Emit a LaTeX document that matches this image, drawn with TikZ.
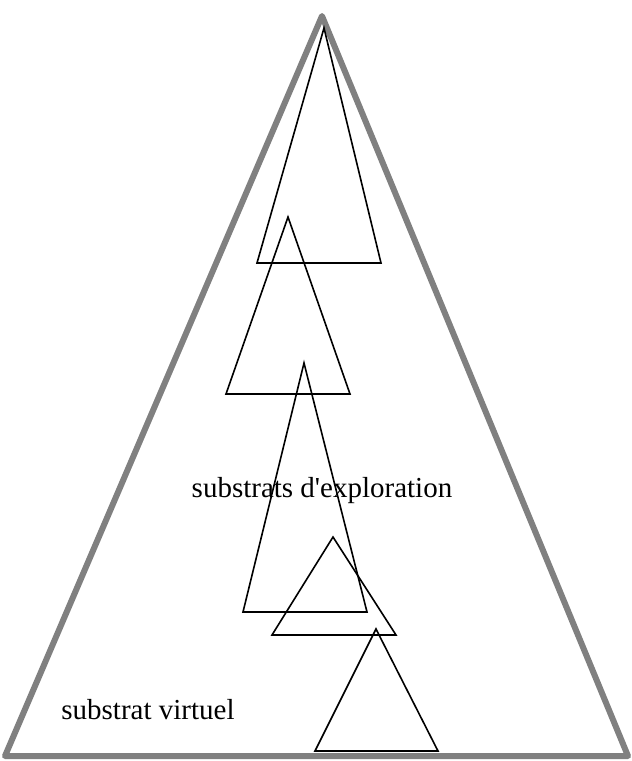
\documentclass[tikz,border=0pt]{standalone}
\usepackage{fontspec}
\setmainfont{Liberation Serif}
\usepackage{tikz}
\definecolor{Hatch}{RGB}{128,128,128}
\tikzset{
  outer/.style={draw=Hatch,line width=6pt,line join=round},
  inner/.style={draw=black,line width=1.6pt},
  lbltext/.style={font=\fontsize{29}{34}\selectfont,inner sep=0pt,anchor=base}
}

\begin{document}
\begin{tikzpicture}[x=1pt,y=-1pt]
  \useasboundingbox (0,0) rectangle (632,761);
  % virtual substrate
  \coordinate (apex) at (322,16);
  \coordinate (left) at (5,756);
  \coordinate (right) at (628,756);
  \draw[outer] (apex) -- (left) -- (right) -- cycle;
  % exploration substrates
  \foreach \ax/\ay/\lx/\rx/\by in {324/28/257/381/263, 288/217/226/350/394,
      304/363/243/367/612, 333/537/272/396/635, 376/629/315/438/751}
    \draw[inner] (\ax,\ay) -- (\lx,\by) -- (\rx,\by) -- cycle;
  \node[lbltext] (explore) at (322,497) {substrats d\textquotesingle exploration};
  \node[lbltext] (virtual) at (148,719) {substrat virtuel};
\end{tikzpicture}
\end{document}
